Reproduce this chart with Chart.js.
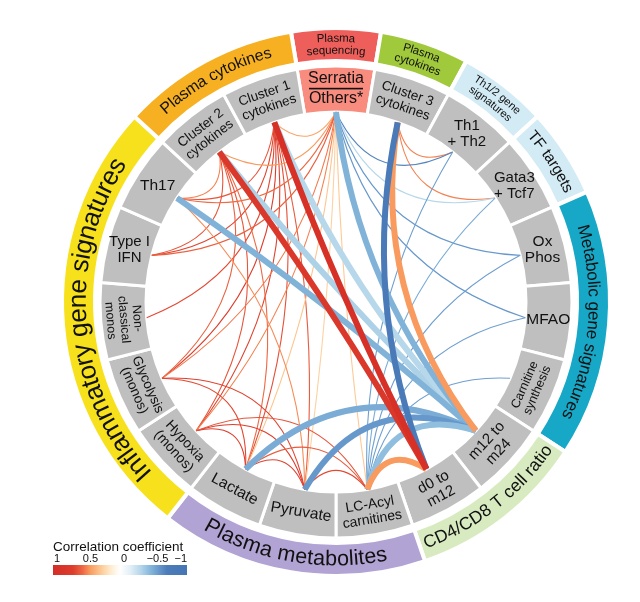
<!DOCTYPE html>
<html>
<head>
<meta charset="utf-8">
<style>
  html, body { margin: 0; padding: 0; background: #fff; }
  #wrap { width: 640px; height: 602px; }
</style>
<script src="https://cdn.jsdelivr.net/npm/chart.js@4.4.0/dist/chart.umd.min.js"></script>
</head>
<body>
<div id="wrap"><canvas id="chord" width="640" height="602"></canvas></div>
<script>
// ---------- Data ----------
const segmentNames = ["Serratia", "Cluster3", "Th1Th2", "Gata3Tcf7", "OxPhos", "MFAO", "Carnitine",
  "m12m24", "d0m12", "LCAcyl", "Pyruvate", "Lactate", "Hypoxia", "Glycolysis", "NonClassical",
  "TypeIIFN", "Th17", "Cluster2", "Cluster1"];

const segmentLabels = [
  ["Serratia", "Others*"], ["Cluster 3", "cytokines"], ["Th1", "+ Th2"], ["Gata3", "+ Tcf7"],
  ["Ox", "Phos"], ["MFAO"], ["Carnitine", "synthesis"], ["m12 to", "m24"], ["d0 to", "m12"],
  ["LC-Acyl", "carnitines"], ["Pyruvate"], ["Lactate"], ["Hypoxia", "(monos)"],
  ["Glycolysis", "(monos)"], ["Non-", "classical", "monos"], ["Type I", "IFN"], ["Th17"],
  ["Cluster 2", "cytokines"], ["Cluster 1", "cytokines"],
];

const groupLabels = [["Plasma", "sequencing"], ["Plasma", "cytokines"], ["Th1/2 gene", "signatures"],
  ["TF targets"], ["Metabolic gene signatures"], ["CD4/CD8 T cell ratio"], ["Plasma metabolites"],
  ["Inflammatory gene signatures"], ["Plasma cytokines"]];
const groupSizes = [1, 1, 1, 1, 3, 2, 3, 5, 2];

// links: from, to, correlation, highlighted (thick)
const linkFrom = [
  "Cluster1", "Cluster1", "Cluster1", "Cluster1", "Cluster1", "Cluster1", "Cluster1",
  "Cluster2", "Cluster2", "Cluster2", "Cluster2", "Cluster2",
  "Serratia", "Serratia", "Serratia", "Serratia", "Serratia", "Serratia", "Serratia", "Serratia", "Serratia",
  "Th17", "Glycolysis", "Glycolysis", "Hypoxia", "Hypoxia", "Hypoxia", "Lactate", "Lactate", "Pyruvate",
  "Cluster3", "Cluster3",
  "Serratia", "Serratia", "Serratia", "Serratia", "OxPhos", "MFAO", "Carnitine", "Gata3Tcf7", "Th1Th2",
  "Cluster2", "Cluster1", "Th17", "Serratia", "Lactate", "Pyruvate", "LCAcyl", "Cluster3", "Cluster3",
  "LCAcyl", "Cluster2", "Cluster1"];
const linkTo = [
  "Th17", "TypeIIFN", "NonClassical", "Glycolysis", "Hypoxia", "Lactate", "Pyruvate",
  "Th17", "TypeIIFN", "Glycolysis", "Hypoxia", "Lactate",
  "Cluster2", "Cluster1", "Th17", "TypeIIFN", "Glycolysis", "Hypoxia", "Lactate", "Pyruvate", "LCAcyl",
  "Pyruvate", "Lactate", "Pyruvate", "Lactate", "Pyruvate", "LCAcyl", "Pyruvate", "LCAcyl", "LCAcyl",
  "Th1Th2", "Gata3Tcf7",
  "Th1Th2", "Gata3Tcf7", "OxPhos", "MFAO", "LCAcyl", "LCAcyl", "LCAcyl", "LCAcyl", "LCAcyl",
  "m12m24", "m12m24", "m12m24", "m12m24", "m12m24", "m12m24", "m12m24", "m12m24", "d0m12",
  "d0m12", "d0m12", "d0m12"];
const linkR = [
  0.62, 0.68, 0.66, 0.7, 0.68, 0.64, 0.6,
  0.5, 0.62, 0.58, 0.62, 0.55,
  0.45, 0.42, 0.55, 0.58, 0.52, 0.5, 0.3, 0.25, 0.28,
  0.48, 0.66, 0.68, 0.7, 0.7, 0.62, 0.68, 0.6, 0.66,
  0.5, 0.5,
  -0.66, -0.3, -0.58, -0.58, -0.55, -0.55, -0.55, -0.5, -0.55,
  -0.33, -0.3, -0.47, -0.47, -0.5, -0.58, -0.42, 0.45, -0.8,
  0.45, 0.8, 0.95];
const linkStrong = [
  0, 0, 0, 0, 0, 0, 0, 0, 0, 0, 0, 0, 0, 0, 0, 0, 0, 0, 0, 0, 0,
  0, 0, 0, 0, 0, 0, 0, 0, 0, 0, 0,
  0, 0, 0, 0, 0, 0, 0, 0, 0,
  1, 1, 1, 1, 1, 1, 1, 1, 1, 1, 1, 1];

const legendTicks = [1, 0.5, 0, -0.5, -1];

// ---------- Styles ----------
const FONT = '"Liberation Sans", Arial, sans-serif';
const GRAY = "#bfbfbf";
const segColors = segmentNames.map((n) => (n === "Serratia" ? "#f78c7f" : GRAY));
const groupColors = ["#ee5f5b", "#a0c93c", "#d3ebf5", "#d3ebf5", "#17a8c8", "#d8ebc0", "#b1a3d3", "#f6e11c", "#f6b021"];
const segFont = [16, 13.5, 15, 15, 15.5, 15.5, 12.5, 15, 15, 14, 15.5, 15.5, 14, 13.5, 12.5, 15, 15.5, 13.5, 13.5];
const segFlat = [true, false, true, true, true, true, false, false, false, false, false, false, false, false, false, true, true, false, false];
const groupFont = [11.5, 11.5, 11, 15.5, 17, 17.5, 21.5, 26, 16];

const colorStops = [
  [1.0, [212, 45, 38]], [0.7, [221, 61, 45]], [0.55, [239, 106, 69]], [0.45, [249, 154, 94]],
  [0.3, [253, 197, 142]], [0.15, [254, 234, 203]], [0, [255, 255, 255]], [-0.15, [227, 240, 247]],
  [-0.3, [183, 216, 234]], [-0.45, [134, 184, 220]], [-0.55, [110, 159, 207]], [-0.7, [77, 124, 186]],
  [-1.0, [69, 117, 180]],
];

function colorFor(v) {
  for (let i = 0; i < colorStops.length - 1; i++) {
    const [v0, c0] = colorStops[i];
    const [v1, c1] = colorStops[i + 1];
    if (v <= v0 && v >= v1) {
      const t = (v0 - v) / (v0 - v1);
      const c = c0.map((x, k) => Math.round(x + (c1[k] - x) * t));
      return `rgb(${c[0]},${c[1]},${c[2]})`;
    }
  }
  return v > 0 ? "rgb(212,45,38)" : "rgb(69,117,180)";
}

const TAU = Math.PI * 2;
function fromTop(a) {
  const p = a + Math.PI / 2;
  return ((p % TAU) + TAU) % TAU;
}

function curvedText(ctx, text, cx, cy, r, phi, flip) {
  const total = ctx.measureText(text).width;
  let p = flip ? phi + total / 2 / r : phi - total / 2 / r;
  for (const ch of text) {
    const w = ctx.measureText(ch).width;
    const pc = flip ? p - w / 2 / r : p + w / 2 / r;
    const a = pc - Math.PI / 2;
    ctx.save();
    ctx.translate(cx + r * Math.cos(a), cy + r * Math.sin(a));
    ctx.rotate(flip ? pc - Math.PI : pc);
    ctx.fillText(ch, 0, 0);
    ctx.restore();
    p = flip ? p - w / r : p + w / r;
  }
}

// ---------- Chord + label plugin ----------
const chordPlugin = {
  id: "chords",
  afterDatasetsDraw(chart) {
    const ctx = chart.ctx;
    const segArcs = chart.getDatasetMeta(2).data;
    const grpArcs = chart.getDatasetMeta(0).data;
    const cx = segArcs[0].x, cy = segArcs[0].y;
    const R = segArcs[0].innerRadius;
    const midAngle = (arc) => (arc.startAngle + arc.endAngle) / 2;

    // chords: thin first, highlighted on top
    const order = linkFrom.map((_, i) => i).sort((a, b) => linkStrong[a] - linkStrong[b]);
    ctx.save();
    ctx.lineCap = "butt";
    order.forEach((i) => {
      const a1 = midAngle(segArcs[segmentNames.indexOf(linkFrom[i])]);
      const a2 = midAngle(segArcs[segmentNames.indexOf(linkTo[i])]);
      let d = a2 - a1;
      d = ((d + Math.PI) % TAU + TAU) % TAU - Math.PI;
      const h = Math.abs(d) / 2;
      const b = a1 + d / 2;
      const mDist = R * Math.cos(h);
      const sag = R * Math.cos(h) * Math.sin(h) / (1 + Math.sin(h));
      const qDist = mDist - 2 * 0.72 * sag;
      ctx.beginPath();
      ctx.moveTo(cx + R * Math.cos(a1), cy + R * Math.sin(a1));
      ctx.quadraticCurveTo(cx + qDist * Math.cos(b), cy + qDist * Math.sin(b),
        cx + R * Math.cos(a2), cy + R * Math.sin(a2));
      ctx.strokeStyle = colorFor(linkR[i]);
      ctx.lineWidth = linkStrong[i] ? 6 : 1.1;
      ctx.stroke();
    });
    ctx.restore();

    // segment labels
    ctx.save();
    ctx.fillStyle = "#111";
    ctx.textAlign = "center";
    ctx.textBaseline = "middle";
    segArcs.forEach((arc, i) => {
      const a = midAngle(arc);
      const r = (arc.innerRadius + arc.outerRadius) / 2;
      const phi = fromTop(a);
      let rot = 0;
      if (!segFlat[i]) rot = phi > Math.PI / 2 && phi < 1.5 * Math.PI ? phi - Math.PI : phi;
      const size = segFont[i];
      const lh = size * 1.08;
      const lines = segmentLabels[i];
      ctx.save();
      ctx.translate(cx + r * Math.cos(a), cy + r * Math.sin(a));
      ctx.rotate(rot);
      ctx.font = `${size}px ${FONT}`;
      if (segmentNames[i] === "Serratia") {
        ctx.fillText(lines[0], 0, -10);
        ctx.fillText(lines[1], 0, 10);
        ctx.fillRect(-27, -1.2, 54, 1.6);
      } else {
        lines.forEach((t, k) => ctx.fillText(t, 0, (k - (lines.length - 1) / 2) * lh));
      }
      ctx.restore();
    });

    // group labels (curved)
    grpArcs.forEach((arc, g) => {
      const phi = fromTop(midAngle(arc));
      const flip = phi > (100 / 180) * Math.PI && phi < (260 / 180) * Math.PI;
      const r = (arc.innerRadius + arc.outerRadius) / 2;
      const size = groupFont[g];
      const lh = size * 1.05;
      const lines = groupLabels[g];
      ctx.font = `${size}px ${FONT}`;
      lines.forEach((t, k) => {
        const off = ((lines.length - 1) / 2 - k) * lh;
        curvedText(ctx, t, cx, cy, flip ? r - off : r + off, phi, flip);
      });
    });
    ctx.restore();
  },
  afterDraw(chart) {
    // colour legend
    const ctx = chart.ctx;
    const x0 = 53, x1 = 187, y0 = 565, y1 = 575;
    ctx.save();
    for (let px = x0; px < x1; px++) {
      const v = 1 - (2 * (px - x0 + 0.5)) / (x1 - x0);
      ctx.fillStyle = colorFor(v);
      ctx.fillRect(px, y0, 1, y1 - y0);
    }
    ctx.fillStyle = "#111";
    ctx.font = `13.5px ${FONT}`;
    ctx.textAlign = "left";
    ctx.textBaseline = "alphabetic";
    ctx.fillText("Correlation coefficient", 53, 551);
    ctx.font = `11px ${FONT}`;
    legendTicks.forEach((v) => {
      const x = 124 - 67 * v;
      const label = v < 0 ? "\u2212" + Math.abs(v) : String(v);
      ctx.textAlign = v === 1 ? "left" : v === -1 ? "right" : "center";
      ctx.fillText(label, v === 1 ? x0 + 1 : v === -1 ? x1 : x, 562);
    });
    ctx.restore();
  },
};

new Chart(document.getElementById("chord"), {
  type: "doughnut",
  data: {
    labels: segmentNames,
    datasets: [
      { data: groupSizes, backgroundColor: groupColors, borderColor: "#fff", borderWidth: 4, weight: 33 },
      { data: [1], backgroundColor: "rgba(0,0,0,0)", borderWidth: 0, weight: 5 },
      { data: segmentNames.map(() => 1), backgroundColor: segColors, borderColor: "#fff", borderWidth: 3, weight: 46 },
    ],
  },
  options: {
    responsive: false,
    animation: false,
    devicePixelRatio: 1,
    events: [],
    rotation: -180 / segmentNames.length,
    radius: 274,
    cutout: (190 / 274) * 100 + "%",
    layout: { padding: { left: 59, right: 27, top: 25, bottom: 23 } },
    plugins: { legend: { display: false }, tooltip: { enabled: false } },
  },
  plugins: [chordPlugin],
});
</script>
</body>
</html>
